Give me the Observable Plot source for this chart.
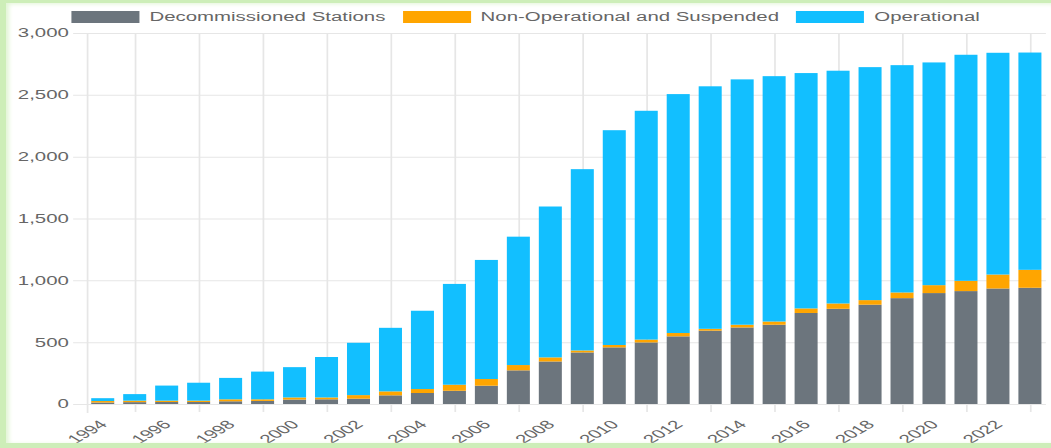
<!DOCTYPE html>
<html><head><meta charset="utf-8">
<script src="https://cdn.jsdelivr.net/npm/d3@7"></script>
<script src="https://cdn.jsdelivr.net/npm/@observablehq/plot@0.6"></script>
<style>
html,body{margin:0;padding:0;background:#fff;width:1051px;height:448px;overflow:hidden;}
#frame{position:absolute;left:0;top:0;width:1051px;height:448px;box-sizing:border-box;border-top:3px solid #cdeeb8;border-left:6px solid #cdeeb8;border-bottom:5px solid #cdeeb8;box-shadow:inset 3px 1px 4px #e2f5d6;pointer-events:none;}
#chart{position:absolute;left:0;top:0;width:618px;height:448px;transform:scaleX(1.70065);transform-origin:0 0;font-family:"Liberation Sans",Arial,sans-serif;}
#legend{position:absolute;top:11px;left:0;width:618px;display:flex;justify-content:center;font-size:12px;color:#666;line-height:12px;}
.item{display:flex;align-items:center;margin:0 5px;white-space:nowrap;}
.sw{width:40px;height:12px;margin-right:6px;}
#plot{position:absolute;left:0;top:0;}
</style></head>
<body>
<div id="chart"><div id="plot"></div><div id="legend"></div></div>
<div id="frame"></div>
<script>
const years = [1994,1995,1996,1997,1998,1999,2000,2001,2002,2003,2004,2005,2006,2007,2008,2009,2010,2011,2012,2013,2014,2015,2016,2017,2018,2019,2020,2021,2022,2023];
const decommissioned = [12,15,16,16,22,25,36,38,43,70,89,107,148,272,344,417,458,498,547,593,619,641,736,770,803,856,897,913,934,940];
const nonOperational = [12,12,11,11,16,13,17,15,29,32,32,49,54,43,33,16,19,23,27,15,22,26,37,43,37,46,64,83,113,145];
const operational = [23,53,122,145,173,224,245,327,423,514,633,815,963,1038,1220,1466,1737,1850,1932,1961,1984,1984,1903,1882,1884,1838,1801,1828,1793,1757];
const seriesNames = ["Decommissioned Stations","Non-Operational and Suspended","Operational"];
const seriesColors = ["#6c757d","#ffa500","#12bfff"];
const yTicks = [0,500,1000,1500,2000,2500,3000];
const xTickLabels = years.filter(y => y % 2 === 0);
const xGridYears = years.filter(y => y % 2 === 1);

const seriesValues = [decommissioned, nonOperational, operational];
const rows = [];
years.forEach((yr, i) => {
  seriesNames.forEach((s, k) => rows.push({year: yr, series: s, value: seriesValues[k][i]}));
});

const plot = Plot.plot({
  width: 618, height: 448,
  marginTop: 33, marginBottom: 44, marginLeft: 51, marginRight: 3,
  style: {fontFamily: '"Liberation Sans",Arial,sans-serif', fontSize: "12px", color: "#666", background: "transparent"},
  x: {type: "band", domain: years, paddingInner: 0.28, paddingOuter: 0.14, round: false},
  y: {domain: [0, 3000]},
  color: {domain: seriesNames, range: seriesColors},
  marks: [
    Plot.ruleY(yTicks, {stroke: "#e6e6e6", insetLeft: -8}),
    Plot.ruleX(xGridYears, {stroke: "#e6e6e6", insetBottom: -8}),
    Plot.frame({anchor: "left", stroke: "#e6e6e6", insetBottom: -8}),
    Plot.barY(rows, {x: "year", y: "value", fill: "series"}),
    Plot.axisY({ticks: yTicks, tickSize: 0, tickPadding: 11, tickFormat: d3.format(","), label: null, color: "#666", fontSize: 12}),
    Plot.axisX({ticks: xTickLabels, tickSize: 0, tickPadding: 18, tickRotate: -45, tickFormat: d => String(d), label: null, color: "#666", fontSize: 12})
  ]
});
document.getElementById("plot").appendChild(plot);

const legend = document.getElementById("legend");
seriesNames.forEach((s, k) => {
  const item = document.createElement("div");
  item.className = "item";
  const sw = document.createElement("span");
  sw.className = "sw";
  sw.style.background = seriesColors[k];
  const t = document.createElement("span");
  t.textContent = s;
  item.appendChild(sw); item.appendChild(t);
  legend.appendChild(item);
});
</script>
</body></html>
